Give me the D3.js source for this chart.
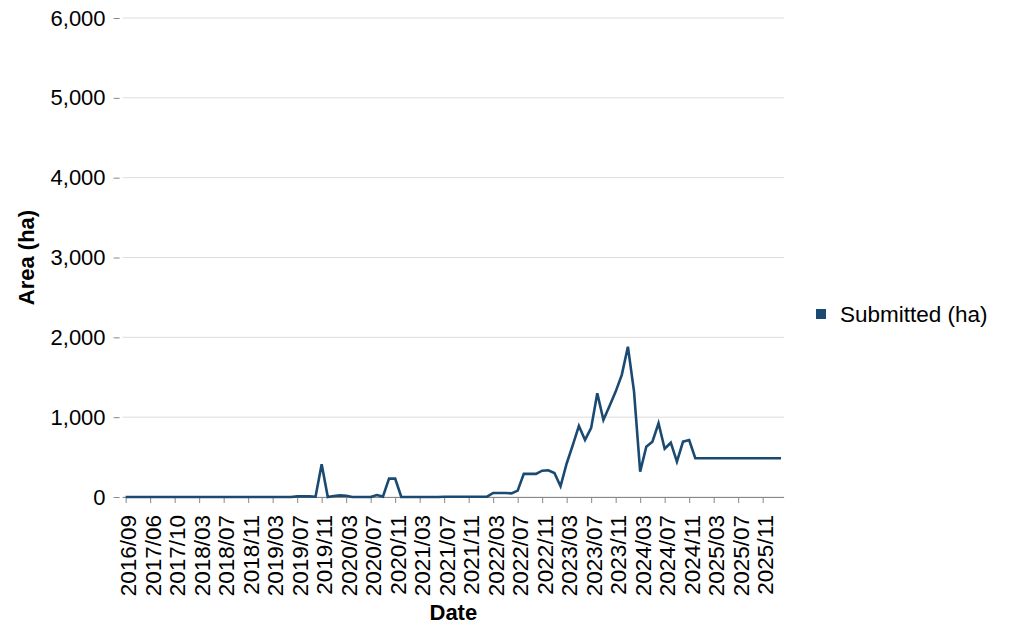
<!DOCTYPE html>
<html>
<head>
<meta charset="utf-8">
<script src="https://cdn.jsdelivr.net/npm/d3@7"></script>
<style>
  html, body { margin: 0; padding: 0; background: #ffffff; }
  svg { display: block; font-family: "Liberation Sans", Arial, sans-serif; }
</style>
</head>
<body>
<svg id="chart" width="1011" height="627"></svg>
<script>
// ---- Data ----
const months = [
  "2016/09","2016/11","2017/02","2017/04","2017/06","2017/07","2017/08","2017/09",
  "2017/10","2017/11","2017/12","2018/01","2018/03","2018/04","2018/05","2018/06",
  "2018/07","2018/08","2018/09","2018/10","2018/11","2018/12","2019/01","2019/02",
  "2019/03","2019/04","2019/05","2019/06","2019/07","2019/08","2019/09","2019/10",
  "2019/11","2019/12","2020/01","2020/02","2020/03","2020/04","2020/05","2020/06",
  "2020/07","2020/08","2020/09","2020/10","2020/11","2020/12","2021/01","2021/02",
  "2021/03","2021/04","2021/05","2021/06","2021/07","2021/08","2021/09","2021/10",
  "2021/11","2021/12","2022/01","2022/02","2022/03","2022/04","2022/05","2022/06",
  "2022/07","2022/08","2022/09","2022/10","2022/11","2022/12","2023/01","2023/02",
  "2023/03","2023/04","2023/05","2023/06","2023/07","2023/08","2023/09","2023/10",
  "2023/11","2023/12","2024/01","2024/02","2024/03","2024/04","2024/05","2024/06",
  "2024/07","2024/08","2024/09","2024/10","2024/11","2024/12","2025/01","2025/02",
  "2025/03","2025/04","2025/05","2025/06","2025/07","2025/08","2025/09","2025/10",
  "2025/11","2025/12","2026/01","2026/02"
];
const submittedHa = [
  0,0,0,0,0,0,0,0,
  0,0,0,0,0,0,0,0,
  0,0,0,0,0,0,0,0,
  0,0,0,0,8,8,8,4,
  410,0,12,20,15,0,0,0,
  0,25,5,230,230,0,0,0,
  0,0,0,0,4,4,4,4,
  4,4,4,4,50,50,50,45,
  80,290,290,290,330,335,300,135,
  420,650,890,715,865,1300,965,1140,
  1320,1530,1883,1320,317,630,693,923,
  605,680,443,693,714,485,485,485,
  485,485,485,485,485,485,485,485,
  485,485,485,485
];
const yTicks = [0,1000,2000,3000,4000,5000,6000];
const seriesName = "Submitted (ha)";
const xTitle = "Date";
const yTitle = "Area (ha)";

// ---- Layout ----
const svg = d3.select("#chart");
const plot = { left: 122.6, right: 784.1, top: 18, bottom: 497 };
const color = "#1a4a72";

const x = d3.scalePoint().domain(months).range([plot.left, plot.right]).padding(0.5);
const y = d3.scaleLinear().domain([0, 6000]).range([plot.bottom, plot.top]);

// gridlines
svg.append("g")
  .selectAll("line")
  .data(yTicks)
  .join("line")
  .attr("x1", plot.left).attr("x2", plot.right)
  .attr("y1", d => y(d)).attr("y2", d => y(d))
  .attr("stroke", "#dddddd").attr("stroke-width", 1);

// y axis
const yAxis = d3.axisLeft(y).tickValues(yTicks).tickFormat(d3.format(",")).tickSize(6).tickPadding(8);
const gy = svg.append("g").attr("transform", `translate(${plot.left - 3},0)`).call(yAxis);
gy.select(".domain").remove();
gy.selectAll(".tick line").attr("stroke", "#888888");
gy.selectAll(".tick text").attr("font-size", 22).attr("fill", "#000").attr("font-family", "Liberation Sans, Arial, sans-serif");

// x axis
const tickCats = months.filter((d, i) => i % 4 === 0);
const xAxis = d3.axisBottom(x).tickValues(tickCats).tickSize(6).tickSizeOuter(0);
const gx = svg.append("g").attr("transform", `translate(0,${plot.bottom})`).call(xAxis);
gx.select(".domain").attr("stroke", "#888888").attr("d", `M${plot.left},0.5H${plot.right}`);
gx.selectAll(".tick line").attr("stroke", "#888888");
gx.selectAll(".tick text")
  .attr("font-size", 22.5).attr("fill", "#000").attr("font-family", "Liberation Sans, Arial, sans-serif")
  .attr("text-anchor", "end")
  .attr("transform", "rotate(-90)")
  .attr("x", -18).attr("y", 0).attr("dy", "0.45em");

// line
const line = d3.line()
  .x((d, i) => x(months[i]))
  .y(d => y(d));
svg.append("path")
  .datum(submittedHa)
  .attr("fill", "none")
  .attr("stroke", color)
  .attr("stroke-width", 2.6)
  .attr("stroke-linejoin", "miter")
  .attr("d", line);

// axis titles
svg.append("text")
  .attr("x", (plot.left + plot.right) / 2).attr("y", 620)
  .attr("text-anchor", "middle").attr("font-weight", "bold").attr("font-size", 22)
  .text(xTitle);
svg.append("text")
  .attr("transform", `translate(34,${(plot.top + plot.bottom) / 2}) rotate(-90)`)
  .attr("text-anchor", "middle").attr("font-weight", "bold").attr("font-size", 22)
  .text(yTitle);

// legend
const lg = svg.append("g").attr("transform", "translate(816,309)");
lg.append("rect").attr("x", 0).attr("y", 0).attr("width", 10).attr("height", 10).attr("fill", color);
lg.append("text").attr("x", 24).attr("y", 5).attr("dy", "0.35em").attr("font-size", 22.5).text(seriesName);
</script>
</body>
</html>
